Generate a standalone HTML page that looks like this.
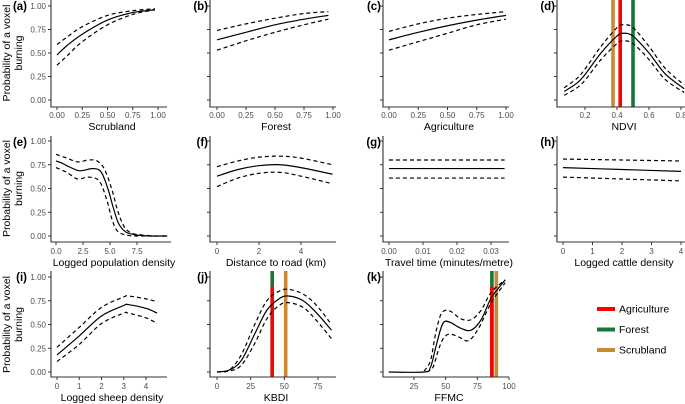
<!DOCTYPE html>
<html><head><meta charset="utf-8"><style>
html,body{margin:0;padding:0;background:#fff;}
svg{display:block;font-family:"Liberation Sans",Arial,sans-serif;}
</style></head><body>
<svg id="fig" width="685" height="404" viewBox="0 0 685 404"></svg>
<script>
// ---- data ----
const aX=[0,0.1,0.25,0.5,0.75,0.97], aFit=[0.48,0.58,0.70,0.85,0.93,0.96], aLo=[0.37,0.47,0.62,0.80,0.91,0.96], aHi=[0.59,0.67,0.78,0.90,0.95,0.97];
const bX=[0,0.25,0.5,0.75,0.96], bFit=[0.64,0.72,0.80,0.86,0.90], bLo=[0.53,0.63,0.72,0.80,0.86], bHi=[0.74,0.81,0.87,0.92,0.94];
const cX=[0,0.25,0.5,0.75,1], cFit=[0.64,0.72,0.79,0.85,0.90], cLo=[0.53,0.62,0.71,0.80,0.86], cHi=[0.73,0.81,0.87,0.91,0.94];
const dX=[0.07,0.15,0.2,0.3,0.4,0.44,0.5,0.6,0.7,0.82], dFit=[0.09,0.18,0.27,0.50,0.68,0.71,0.68,0.50,0.28,0.12], dLo=[0.05,0.13,0.21,0.43,0.60,0.63,0.60,0.43,0.22,0.08], dHi=[0.13,0.23,0.33,0.57,0.77,0.80,0.77,0.57,0.34,0.16];
const eX=[0,0.5,1,2,2.5,3.5,4.2,4.8,5.3,5.8,6.5,7.5,8.8,10.3], eFit=[0.79,0.77,0.74,0.69,0.69,0.71,0.67,0.50,0.30,0.13,0.04,0.01,0.0,0.0];
const eHiX=[0,1,2,3,3.8,4.5,5.2,5.7,6.3,7,8,9,10.3], eHi=[0.86,0.82,0.78,0.80,0.79,0.70,0.48,0.27,0.10,0.03,0.01,0.0,0.0];
const eLoX=[0,1,2,3,4,4.7,5.2,5.7,6.5,7.5,8.8,10.3], eLo=[0.72,0.67,0.60,0.62,0.58,0.38,0.17,0.05,0.01,0,0,0];
const fX=[0,1,2,3,4,5.5], fFit=[0.63,0.70,0.74,0.75,0.72,0.65], fHi=[0.73,0.79,0.83,0.84,0.82,0.75], fLo=[0.52,0.61,0.66,0.67,0.63,0.55];
const gX=[0,0.034], gFit=[0.71,0.71], gHi=[0.80,0.80], gLo=[0.61,0.61];
const hX=[0,2,4], hFit=[0.72,0.70,0.68], hHi=[0.81,0.80,0.79], hLo=[0.62,0.60,0.58];
const iX=[0,1,2,3,3.2,4,4.5], iFit=[0.18,0.38,0.59,0.70,0.71,0.67,0.62], iHi=[0.26,0.47,0.68,0.79,0.80,0.77,0.74], iLo=[0.11,0.29,0.51,0.62,0.62,0.57,0.51];
const jX=[0,9,18,28,37,46,53,64,74,85], jFit=[0,0.02,0.12,0.40,0.65,0.77,0.80,0.75,0.62,0.44], jHi=[0,0.02,0.18,0.50,0.75,0.85,0.87,0.82,0.70,0.50], jLo=[0,0.01,0.07,0.30,0.56,0.70,0.73,0.68,0.54,0.35];
const kX=[5,33,38,42,46,49,54,62,70,78,86,97], kFit=[0,0,0.05,0.25,0.45,0.53,0.52,0.46,0.44,0.55,0.78,0.97];
const kHiX=[33,38,42,46,50,55,62,70,78,86,97], kHi=[0.01,0.12,0.40,0.60,0.65,0.63,0.56,0.55,0.65,0.84,0.97];
const kLoX=[35,40,44,48,53,60,68,76,86,97], kLo=[0,0.05,0.22,0.35,0.40,0.37,0.33,0.46,0.73,0.94];
const dVlines=[0.375,0.42,0.50], jVlines=[41,51], kVlines=[86.5,90];
const legendLabels=["Agriculture","Forest","Scrubland"];
const yTicks=[0,0.25,0.5,0.75,1];
const yTickLabels=["0.00","0.25","0.50","0.75","1.00"];
const COL={Agriculture:"#ff0000",Forest:"#17773a",Scrubland:"#c98a35"};

const svg=document.getElementById('fig');const NS="http://www.w3.org/2000/svg";
function mk(tag,attrs,parent){const e=document.createElementNS(NS,tag);for(const k in attrs)e.setAttribute(k,attrs[k]);(parent||svg).appendChild(e);return e;}
function txt(s,x,y,attrs,parent){const t=mk('text',Object.assign({x:x,y:y},attrs),parent);t.textContent=s;return t;}
function pathD(px,py){
  let d=`M${px[0]},${py[0]}`;
  for(let i=0;i<px.length-1;i++){
    const x0=px[Math.max(i-1,0)],y0=py[Math.max(i-1,0)],x1=px[i],y1=py[i],x2=px[i+1],y2=py[i+1],x3=px[Math.min(i+2,px.length-1)],y3=py[Math.min(i+2,px.length-1)];
    d+=` C${x1+(x2-x0)/6},${y1+(y2-y0)/6} ${x2-(x3-x1)/6},${y2-(y3-y1)/6} ${x2},${y2}`;
  }return d;}
const rows=[{y1:6,y0:100,bot:107,top:0,tl:118,tt:130},{y1:141,y0:236,bot:242,top:136,tl:254,tt:266},{y1:277,y0:372,bot:377,top:271,tl:389,tt:401}];
function panel(o){
  const r=rows[o.row];const g=mk('g',{},svg);
  
  
  const sx=v=>o.p0+(v-o.v0)*(o.p1-o.p0)/(o.v1-o.v0);
  const sy=v=>r.y0+(r.y1-r.y0)*v;
  (o.vl||[]).forEach(v=>{
    const l=mk('rect',{x:sx(v.x)-1.8,y:(v.top!=null?sy(v.top):r.top),width:3.6,height:(r.bot-(v.top!=null?sy(v.top):r.top)),fill:COL[v.c]},g);
    
    
  });
  const curves=[[o.lox||o.x,o.lo,'4,3'],[o.hix||o.x,o.hi,'4,3'],[o.x,o.fit,null]];
  curves.forEach((c,i)=>{const p=mk('path',{d:pathD(c[0].map(sx),c[1].map(sy)),fill:'none',stroke:'#000','stroke-width':1.2},g);
    if(c[2])p.setAttribute('stroke-dasharray',c[2]);
    
    });
  const ax=mk('path',{d:`M${o.ax},${r.top}V${r.bot}H${o.ax+(o.w||118)}`,fill:'none',stroke:'#333','stroke-width':1.1},g);
  
  yTicks.forEach((t,i)=>{mk('line',{x1:o.ax-3,x2:o.ax,y1:sy(t),y2:sy(t),stroke:'#333','stroke-width':1},g);
    if(o.ylab){const tl=txt(yTickLabels[i],o.ax-5,sy(t)+3,{'font-size':8,fill:'#4d4d4d','text-anchor':'end'},g);
      }});
  o.xt.forEach((t,i)=>{mk('line',{x1:sx(t),x2:sx(t),y1:r.bot,y2:r.bot+3,stroke:'#333','stroke-width':1},g);
    const tl=txt(o.xtl[i],sx(t),r.tl,{'font-size':8,fill:'#4d4d4d','text-anchor':'middle'},g);
    });
  const xt=txt(o.title,o.ax+(o.w||118)/2+3,r.tt,{'font-size':10.5,fill:'#000','text-anchor':'middle'},g);
  
  const pl=txt('('+o.id+')',o.ax-(o.ylab?24:2),r.top+10,{'font-size':11.5,'font-weight':'bold',fill:'#000','text-anchor':'end'},g);
  
  if(o.ylab){const yt=mk('text',{transform:`translate(12,${(r.y0+r.y1)/2}) rotate(-90)`,'font-size':10.5,'text-anchor':'middle',fill:'#000'},g);
    
    const a=mk('tspan',{x:0,dy:-2},yt);a.textContent='Probability of a voxel';
    const b=mk('tspan',{x:0,dy:12},yt);b.textContent='burning';}
}
panel({id:'a',row:0,ax:51,w:116,p0:57,p1:158,v0:0,v1:1,ylab:true,x:aX,fit:aFit,lo:aLo,hi:aHi,xt:[0,.25,.5,.75,1],xtl:["0.00","0.25","0.50","0.75","1.00"],title:'Scrubland'});
panel({id:'b',row:0,ax:210,w:126,p0:217,p1:333,v0:0,v1:1,x:bX,fit:bFit,lo:bLo,hi:bHi,xt:[0,.25,.5,.75,1],xtl:["0.00","0.25","0.50","0.75","1.00"],title:'Forest'});
panel({id:'c',row:0,ax:383,w:126,p0:389,p1:506,v0:0,v1:1,x:cX,fit:cFit,lo:cLo,hi:cHi,xt:[0,.25,.5,.75,1],xtl:["0.00","0.25","0.50","0.75","1.00"],title:'Agriculture'});
panel({id:'d',row:0,ax:557,w:128,p0:585,p1:681,v0:0.2,v1:0.8,x:dX,fit:dFit,lo:dLo,hi:dHi,xt:[.2,.4,.6,.8],xtl:["0.2","0.4","0.6","0.8"],title:'NDVI',
  vl:[{x:dVlines[0],c:'Scrubland'},{x:dVlines[1],c:'Agriculture'},{x:dVlines[2],c:'Forest'}]});
panel({id:'e',row:1,ax:51,w:120,p0:56,p1:137,v0:0,v1:7.5,ylab:true,x:eX,fit:eFit,lox:eLoX,lo:eLo,hix:eHiX,hi:eHi,xt:[0,2.5,5,7.5],xtl:["0.0","2.5","5.0","7.5"],title:'Logged population density'});
panel({id:'f',row:1,ax:210,w:126,p0:217,p1:301,v0:0,v1:4,x:fX,fit:fFit,lo:fLo,hi:fHi,xt:[0,2,4],xtl:["0","2","4"],title:'Distance to road (km)'});
panel({id:'g',row:1,ax:383,w:126,p0:389,p1:491,v0:0,v1:0.03,x:gX,fit:gFit,lo:gLo,hi:gHi,xt:[0,.01,.02,.03],xtl:["0.00","0.01","0.02","0.03"],title:'Travel time (minutes/metre)'});
panel({id:'h',row:1,ax:557,w:128,p0:563,p1:681,v0:0,v1:4,x:hX,fit:hFit,lo:hLo,hi:hHi,xt:[0,1,2,3,4],xtl:["0","1","2","3","4"],title:'Logged cattle density'});
panel({id:'i',row:2,ax:51,w:116,p0:57,p1:146,v0:0,v1:4,ylab:true,x:iX,fit:iFit,lo:iLo,hi:iHi,xt:[0,1,2,3,4],xtl:["0","1","2","3","4"],title:'Logged sheep density'});
panel({id:'j',row:2,ax:210,w:126,p0:217,p1:318,v0:0,v1:75,x:jX,fit:jFit,lo:jLo,hi:jHi,xt:[0,25,50,75],xtl:["0","25","50","75"],title:'KBDI',
  vl:[{x:jVlines[0],c:'Forest'},{x:jVlines[0],c:'Agriculture',top:0.90},{x:jVlines[1],c:'Scrubland'}]});
panel({id:'k',row:2,ax:383,w:126,p0:414,p1:509,v0:25,v1:100,x:kX,fit:kFit,lox:kLoX,lo:kLo,hix:kHiX,hi:kHi,xt:[25,50,75,100],xtl:["25","50","75","100"],title:'FFMC',
  vl:[{x:kVlines[0],c:'Forest'},{x:kVlines[0],c:'Agriculture',top:0.90},{x:kVlines[1],c:'Scrubland'}]});
const lg=mk('g',{},svg);


legendLabels.forEach((lab,i)=>{const y=309+i*20.5;
  const sw=mk('rect',{x:597,y:y-2,width:18,height:4,fill:COL[lab]},lg);
  
  
  const t=txt(lab,619,y+3.5,{'font-size':10.5,fill:'#000'},lg);
  
  });
</script>
</body></html>
